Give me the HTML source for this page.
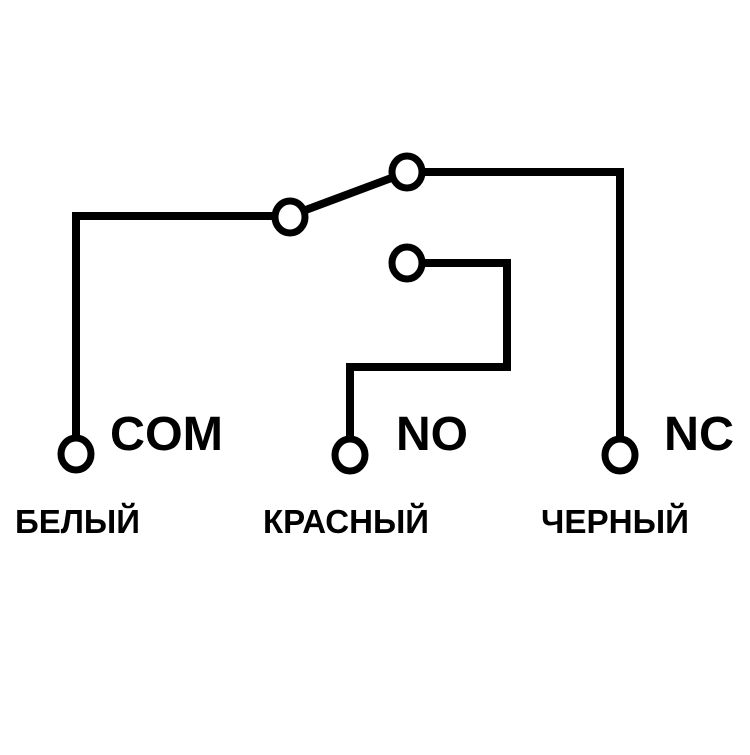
<!DOCTYPE html>
<html><head><meta charset="utf-8"><style>html,body{margin:0;padding:0;background:#fff}</style></head>
<body>
<svg width="750" height="750" viewBox="0 0 750 750" xmlns="http://www.w3.org/2000/svg">
<g fill="none" stroke="#000" stroke-width="8">
<polyline points="76,440 76,216 276,216"/>
<line x1="303" y1="211" x2="394" y2="177"/>
<polyline points="421,172 620,172 620,441"/>
<polyline points="421,263 507,263 507,367 350,367 350,441"/>
<ellipse cx="76" cy="454" rx="15" ry="16" stroke-width="7"/>
<ellipse cx="290" cy="217" rx="15" ry="16" stroke-width="7"/>
<ellipse cx="407" cy="172" rx="15" ry="16" stroke-width="7"/>
<ellipse cx="407" cy="263" rx="15" ry="16" stroke-width="7"/>
<ellipse cx="350" cy="455" rx="15" ry="16" stroke-width="7"/>
<ellipse cx="620" cy="455" rx="15" ry="16" stroke-width="7"/>
</g>
<g font-family="Liberation Sans, sans-serif" font-weight="bold" fill="#000">
<text x="110" y="450" font-size="48" textLength="113" lengthAdjust="spacingAndGlyphs">COM</text>
<text x="396" y="450" font-size="48" textLength="72" lengthAdjust="spacingAndGlyphs">NO</text>
<text x="664" y="450" font-size="48" textLength="70" lengthAdjust="spacingAndGlyphs">NC</text>
<text x="15" y="533" font-size="33" textLength="125" lengthAdjust="spacingAndGlyphs">БЕЛЫЙ</text>
<text x="263" y="533" font-size="33" textLength="166" lengthAdjust="spacingAndGlyphs">КРАСНЫЙ</text>
<text x="541" y="533" font-size="33" textLength="148" lengthAdjust="spacingAndGlyphs">ЧЕРНЫЙ</text>
</g>
</svg>
</body></html>
